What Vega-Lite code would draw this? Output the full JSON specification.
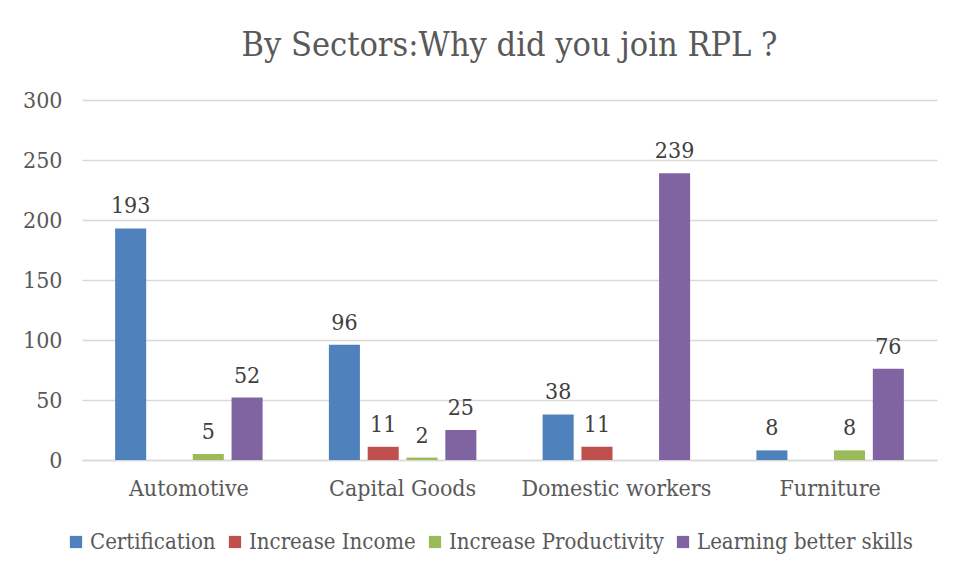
{
  "$schema": "https://vega.github.io/schema/vega-lite/v6.json",
  "width": 855,
  "height": 360,
  "autosize": {"type": "none"},
  "padding": {"left": 82, "top": 100, "right": 25, "bottom": 116},
  "background": "white",
  "title": {
    "text": "By Sectors:Why did you join RPL ?",
    "font": "DejaVu Serif Condensed",
    "fontSize": 34,
    "fontWeight": "normal",
    "color": "#595959",
    "anchor": "middle",
    "offset": 26
  },
  "data": {
    "values": [
      {"sector": "Automotive", "reason": "Certification", "value": 193},
      {"sector": "Automotive", "reason": "Increase Productivity", "value": 5},
      {"sector": "Automotive", "reason": "Learning better skills", "value": 52},
      {"sector": "Capital Goods", "reason": "Certification", "value": 96},
      {"sector": "Capital Goods", "reason": "Increase Income", "value": 11},
      {"sector": "Capital Goods", "reason": "Increase Productivity", "value": 2},
      {"sector": "Capital Goods", "reason": "Learning better skills", "value": 25},
      {"sector": "Domestic workers", "reason": "Certification", "value": 38},
      {"sector": "Domestic workers", "reason": "Increase Income", "value": 11},
      {"sector": "Domestic workers", "reason": "Learning better skills", "value": 239},
      {"sector": "Furniture", "reason": "Certification", "value": 8},
      {"sector": "Furniture", "reason": "Increase Productivity", "value": 8},
      {"sector": "Furniture", "reason": "Learning better skills", "value": 76}
    ]
  },
  "encoding": {
    "x": {
      "field": "sector",
      "type": "nominal",
      "sort": null,
      "scale": {"paddingInner": 0.31, "paddingOuter": 0.155},
      "axis": {
        "title": null,
        "labelAngle": 0,
        "labelFont": "DejaVu Serif Condensed",
        "labelFontSize": 23,
        "labelColor": "#595959",
        "labelPadding": 17,
        "labelLimit": 400,
        "ticks": false,
        "domainColor": "#D9D9D9",
        "domainWidth": 1.5,
        "grid": false
      }
    },
    "xOffset": {
      "field": "reason",
      "type": "nominal",
      "scale": {"paddingInner": 0.2, "paddingOuter": 0}
    },
    "y": {
      "field": "value",
      "type": "quantitative",
      "scale": {"domain": [0, 300]},
      "axis": {
        "title": null,
        "values": [0, 50, 100, 150, 200, 250, 300],
        "labelFont": "DejaVu Serif Condensed",
        "labelFontSize": 23,
        "labelColor": "#595959",
        "labelPadding": 20,
        "ticks": false,
        "domain": false,
        "gridColor": "#D9D9D9",
        "gridWidth": 1.5
      }
    }
  },
  "layer": [
    {
      "mark": {"type": "bar"},
      "encoding": {
        "color": {
          "field": "reason",
          "type": "nominal",
          "scale": {
            "domain": ["Certification", "Increase Income", "Increase Productivity", "Learning better skills"],
            "range": ["#4F81BD", "#C0504D", "#9BBB59", "#8064A2"]
          },
          "legend": {
            "title": null,
            "orient": "none",
            "legendX": -17,
            "legendY": 431,
            "direction": "horizontal",
            "symbolType": "square",
            "symbolSize": 150,
            "symbolStrokeWidth": 0,
            "labelFont": "DejaVu Serif Condensed",
            "labelFontSize": 22,
            "labelColor": "#595959",
            "labelLimit": 400,
            "labelOffset": 3,
            "columnPadding": 8
          }
        }
      }
    },
    {
      "mark": {
        "type": "text",
        "baseline": "bottom",
        "dy": -10,
        "font": "DejaVu Serif Condensed",
        "fontSize": 23,
        "color": "#404040"
      },
      "encoding": {
        "text": {"field": "value", "type": "quantitative"}
      }
    }
  ],
  "config": {
    "view": {"stroke": null}
  }
}
